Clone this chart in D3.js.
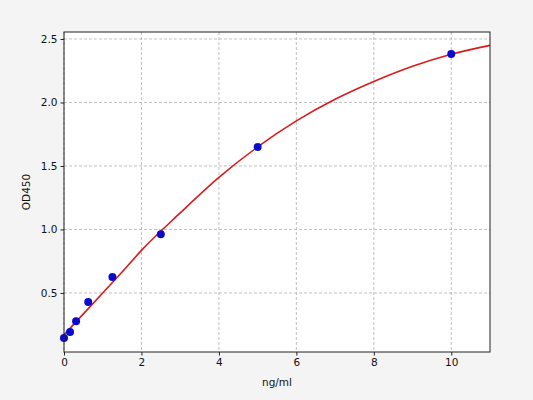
<!DOCTYPE html>
<html>
<head>
<meta charset="utf-8">
<script src="https://cdn.jsdelivr.net/npm/d3@7"></script>
<style>
  body { margin: 0; background: #f4f4f4; }
  svg { display: block; font-family: "DejaVu Sans", sans-serif; }
</style>
</head>
<body>
<svg id="chart" width="533" height="400"></svg>
<script>
// standards (ng/ml) and measured OD450
const conc = [0, 0.156, 0.312, 0.625, 1.25, 2.5, 5, 10];
const od = [0.145, 0.192, 0.277, 0.429, 0.626, 0.963, 1.649, 2.382];

// fitted curve
const curveX = [0, 0.5, 1, 1.5, 2, 3, 4, 5, 6, 7, 8, 9, 10, 11];
const curveY = [0.17, 0.335, 0.5, 0.665, 0.835, 1.13, 1.41, 1.65, 1.855, 2.025, 2.165, 2.285, 2.38, 2.45];

const xTicks = [0, 2, 4, 6, 8, 10];
const yTicks = [0.5, 1.0, 1.5, 2.0, 2.5];

const margin = {top: 32, right: 43, bottom: 48, left: 64};
const W = 533, H = 400;
const iw = W - margin.left - margin.right;
const ih = H - margin.top - margin.bottom;

const svg = d3.select("#chart");
const g = svg.append("g").attr("transform", `translate(${margin.left},${margin.top})`);

const x = d3.scaleLinear().domain([0, 11]).range([0, iw]);
const y = d3.scaleLinear().domain([0.035, 2.555]).range([ih, 0]);

g.append("rect").attr("width", iw).attr("height", ih).attr("fill", "white");

// grid
const grid = g.append("g").attr("class", "grid")
    .attr("stroke", "#b0b0b0").attr("stroke-width", 0.8).attr("stroke-dasharray", "3,2");
grid.selectAll(".gx").data(xTicks).join("line")
    .attr("x1", d => x(d)).attr("x2", d => x(d)).attr("y1", 0).attr("y2", ih);
grid.selectAll(".gy").data(yTicks).join("line")
    .attr("x1", 0).attr("x2", iw).attr("y1", d => y(d)).attr("y2", d => y(d));

// fitted line
const line = d3.line().x((d, i) => x(curveX[i])).y(d => y(d)).curve(d3.curveMonotoneX);
g.append("path").datum(curveY)
    .attr("d", line).attr("fill", "none")
    .attr("stroke", "#d91a1a").attr("stroke-width", 1.6);

// points
g.selectAll(".pt").data(conc).join("circle")
    .attr("cx", d => x(d)).attr("cy", (d, i) => y(od[i]))
    .attr("r", 4).attr("fill", "#0a0acc");

// frame
g.append("rect").attr("width", iw).attr("height", ih)
    .attr("fill", "none").attr("stroke", "#222").attr("stroke-width", 1);

// axes
const xAxis = g.append("g").attr("transform", `translate(0,${ih})`)
    .call(d3.axisBottom(x).tickValues(xTicks).tickFormat(d3.format("d")).tickSize(3.5).tickPadding(3));
const yAxis = g.append("g")
    .call(d3.axisLeft(y).tickValues(yTicks).tickFormat(d3.format(".1f")).tickSize(3.5).tickPadding(3));
[xAxis, yAxis].forEach(a => {
    a.select(".domain").remove();
    a.selectAll(".tick line").attr("stroke", "#222");
    a.selectAll(".tick text").attr("fill", "#111").attr("font-size", 10.5)
        .attr("font-family", "DejaVu Sans, sans-serif");
});

svg.append("text").attr("x", margin.left + iw / 2).attr("y", 386)
    .attr("text-anchor", "middle").attr("font-size", 10.5).attr("fill", "#111").text("ng/ml");
svg.append("text").attr("transform", `translate(30,${margin.top + ih / 2}) rotate(-90)`)
    .attr("text-anchor", "middle").attr("font-size", 10.5).attr("fill", "#111").text("OD450");
</script>
</body>
</html>
